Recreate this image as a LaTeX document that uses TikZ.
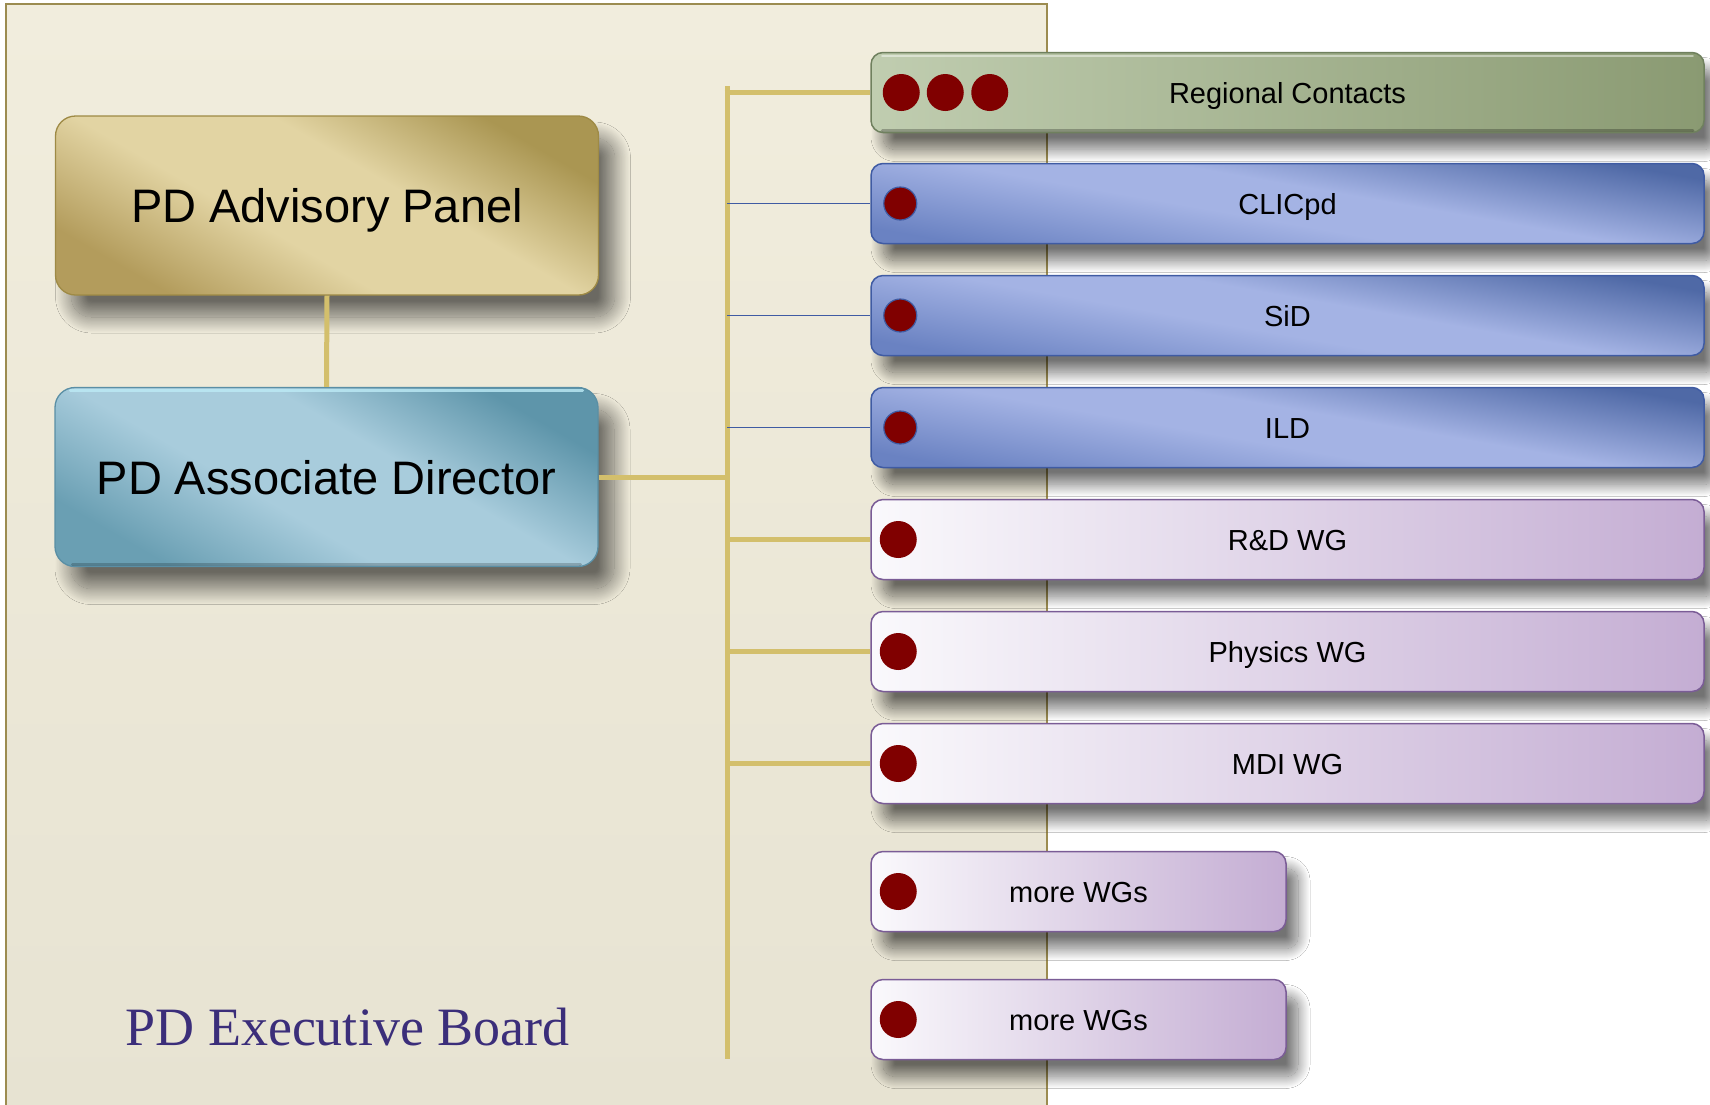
\documentclass[tikz,border=0pt]{standalone}
\usepackage{fontspec}
\setmainfont{Liberation Sans}
\newfontfamily\serifface{Liberation Serif}
\usetikzlibrary{shadows.blur,calc,shadings}
\definecolor{panelTop}{HTML}{F1EDDD}
\definecolor{panelBot}{HTML}{E7E3D2}
\definecolor{panelLine}{HTML}{9C8C50}
\definecolor{goldA}{HTML}{E2D4A3}
\definecolor{goldB}{HTML}{AA9652}
\definecolor{goldC}{HTML}{B39C5C}
\definecolor{goldLine}{HTML}{9E8A45}
\definecolor{tealA}{HTML}{A8CCDC}
\definecolor{tealB}{HTML}{5E95AA}
\definecolor{tealC}{HTML}{6A9FB3}
\definecolor{tealLine}{HTML}{5A8FA5}
\definecolor{tealHi}{HTML}{BDEBF6}
\definecolor{greenA}{HTML}{C0CDB0}
\definecolor{greenB}{HTML}{8A9A72}
\definecolor{greenLine}{HTML}{6F805E}
\definecolor{blueA}{HTML}{A4B3E4}
\definecolor{blueB}{HTML}{4F69A6}
\definecolor{blueC}{HTML}{6A82C2}
\definecolor{blueLine}{HTML}{3F5BA3}
\definecolor{purA}{HTML}{FAF9FC}
\definecolor{purB}{HTML}{C4ADD3}
\definecolor{purLine}{HTML}{7A5C96}
\definecolor{dotRed}{HTML}{800000}
\definecolor{busGold}{HTML}{D3BF6C}
\definecolor{boardText}{HTML}{3B2E7A}
\pgfdeclareverticalshading{goldsh}{100bp}{color(0bp)=(goldC); color(25bp)=(goldC); color(42bp)=(goldA); color(58bp)=(goldA); color(75bp)=(goldB); color(100bp)=(goldB)}
\pgfdeclareverticalshading{tealsh}{100bp}{color(0bp)=(tealC); color(25bp)=(tealC); color(42bp)=(tealA); color(58bp)=(tealA); color(75bp)=(tealB); color(100bp)=(tealB)}
\pgfdeclareverticalshading{bluesh}{100bp}{color(0bp)=(blueC); color(25bp)=(blueC); color(45bp)=(blueA); color(55bp)=(blueA); color(75bp)=(blueB); color(100bp)=(blueB)}
\tikzset{
  bigshade/.style={blur shadow={shadow xshift=16pt, shadow yshift=-22pt, shadow blur radius=16pt, shadow opacity=55, shadow blur steps=30}},
  smallshade/.style={blur shadow={shadow xshift=12pt, shadow yshift=-17pt, shadow blur radius=12pt, shadow opacity=55, shadow blur steps=30}},
  bigbox/.style={shape=rectangle, rounded corners=20pt, inner sep=0pt, line width=1.3pt,
    minimum width=543pt, minimum height=179pt, text height=34pt, text depth=0pt,
    font=\fontsize{47}{56}\selectfont, bigshade},
  advbox/.style={bigbox, draw=goldLine, shading=goldsh, shading angle=-30},
  adbox/.style={bigbox, draw=tealLine, shading=tealsh, shading angle=-30},
  unitbox/.style={shape=rectangle, rounded corners=12pt, inner sep=0pt, line width=1.5pt,
    minimum width=833pt, minimum height=80pt, text height=21pt, text depth=0pt,
    font=\fontsize{29}{34}\selectfont, smallshade},
  greenbox/.style={unitbox, draw=greenLine, left color=greenA, right color=greenB},
  bluebox/.style={unitbox, draw=blueLine, shading=bluesh, shading angle=-10},
  purbox/.style={unitbox, draw=purLine, left color=purA, right color=purB},
  shortbox/.style={purbox, minimum width=415pt},
  reddot/.style={shape=circle, fill=dotRed, inner sep=0pt, minimum size=37pt},
  bluedot/.style={reddot, minimum size=33pt, draw=blueLine, line width=1.2pt},
  goldlink/.style={draw=busGold, line width=5pt},
  bluelink/.style={draw=blueLine, line width=1.5pt},
}
\begin{document}
\begin{tikzpicture}[x=1pt, y=-1pt]
\useasboundingbox (0,0) rectangle (1710,1104);
\fill[white] (0,0) rectangle (1710,1104);
% executive board panel
\path[top color=panelTop, bottom color=panelBot, draw=panelLine, line width=1.5pt] (6,4) rectangle (1047,1112);
\node[anchor=base west, text=boardText, font=\serifface\fontsize{54}{60}\selectfont] (board) at (122,1045) {PD Executive Board};

% bus
\coordinate (bustop) at (727,86);
\coordinate (busbot) at (727,1059);

% main boxes
\node[advbox] (adv) at (327,205.5) {PD Advisory Panel};
\node[adbox] (ad) at (326.5,477) {PD Associate Director};
\draw[tealHi, opacity=0.8, line width=3pt, line cap=round] ([xshift=16pt,yshift=-4pt]ad.north west) -- ([xshift=-16pt,yshift=-4pt]ad.north east);
\draw[black, opacity=0.2, line width=3pt, line cap=round] ([xshift=18pt,yshift=3pt]ad.south west) -- ([xshift=-18pt,yshift=3pt]ad.south east);

% unit boxes
\node[greenbox] (reg) at (1287.5,92.5) {Regional Contacts};
\draw[white, opacity=0.45, line width=2.5pt, line cap=round] ([xshift=12pt,yshift=-4pt]reg.north west) -- ([xshift=-12pt,yshift=-4pt]reg.north east);
\draw[black, opacity=0.25, line width=3pt, line cap=round] ([xshift=12pt,yshift=3pt]reg.south west) -- ([xshift=-12pt,yshift=3pt]reg.south east);
\node[bluebox] (clic) at (1287.5,203.5) {CLICpd};
\node[bluebox] (sid) at (1287.5,315.5) {SiD};
\node[bluebox] (ild) at (1287.5,427.5) {ILD};
\node[purbox] (rd) at (1287.5,539.5) {R\&D WG};
\node[purbox] (phys) at (1287.5,651.5) {Physics WG};
\node[purbox] (mdi) at (1287.5,763.5) {MDI WG};
\node[shortbox] (more1) at (1078.5,891.5) {more WGs};
\node[shortbox] (more2) at (1078.5,1019.5) {more WGs};

% connectors
\draw[goldlink] (adv.south) -- (ad.north);
\draw[goldlink] (bustop) -- (busbot);
\draw[goldlink] (ad.east) -- (ad.east -| bustop);
\draw[goldlink] ([xshift=-2.5pt]bustop |- reg.west) -- (reg.west);
\draw[bluelink] (bustop |- clic.west) -- (clic.west);
\draw[bluelink] (bustop |- sid.west) -- (sid.west);
\draw[bluelink] (bustop |- ild.west) -- (ild.west);
\draw[goldlink] (bustop |- rd.west) -- (rd.west);
\draw[goldlink] (bustop |- phys.west) -- (phys.west);
\draw[goldlink] (bustop |- mdi.west) -- (mdi.west);

% dots
\node[reddot] (rg1) at ($(reg.west)+(31,0)$) {};
\node[reddot] (rg2) at ($(reg.west)+(75,0)$) {};
\node[reddot] (rg3) at ($(reg.west)+(119.5,0)$) {};
\node[bluedot] (dclic) at ($(clic.west)+(30,0)$) {};
\node[bluedot] (dsid) at ($(sid.west)+(30,0)$) {};
\node[bluedot] (dild) at ($(ild.west)+(30,0)$) {};
\node[reddot] (drd) at ($(rd.west)+(28,0)$) {};
\node[reddot] (dphys) at ($(phys.west)+(28,0)$) {};
\node[reddot] (dmdi) at ($(mdi.west)+(28,0)$) {};
\node[reddot] (dm1) at ($(more1.west)+(28,0)$) {};
\node[reddot] (dm2) at ($(more2.west)+(28,0)$) {};
\end{tikzpicture}
\end{document}
